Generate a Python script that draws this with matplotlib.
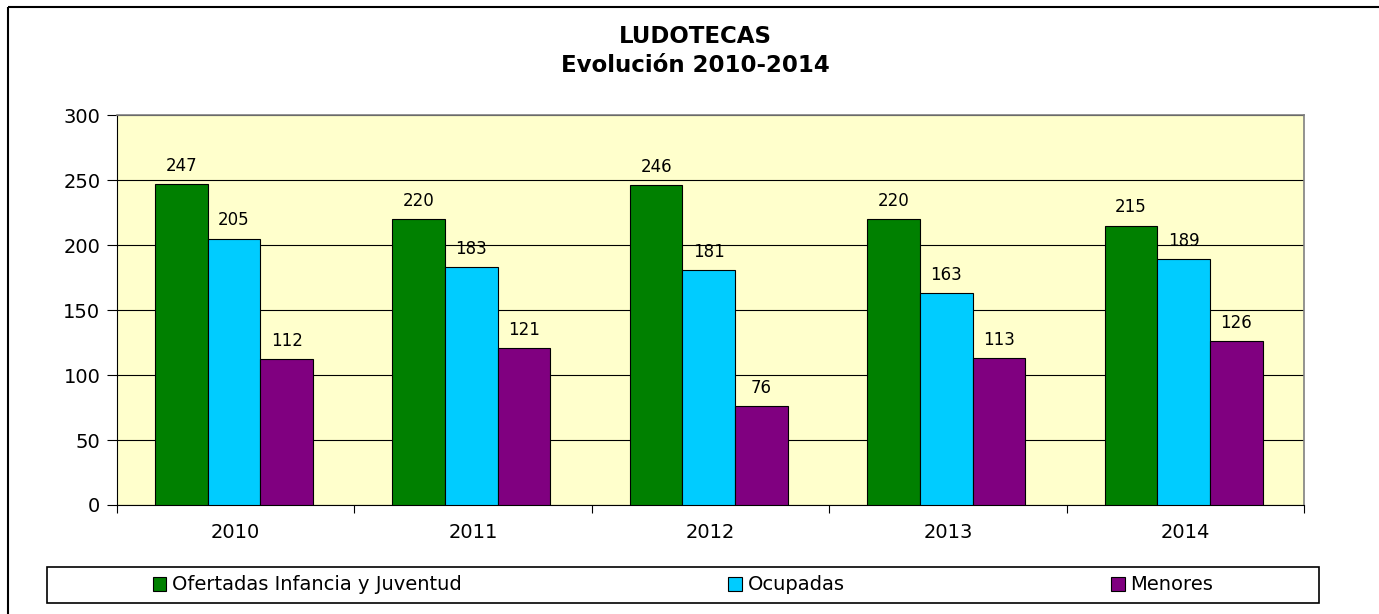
import numpy as np
import matplotlib.pyplot as plt
from matplotlib.patches import Rectangle

# Datos
anios = ['2010', '2011', '2012', '2013', '2014']
ofertadas = [247, 220, 246, 220, 215]
ocupadas = [205, 183, 181, 163, 189]
menores = [112, 121, 76, 113, 126]

series = ['Ofertadas Infancia y Juventud', 'Ocupadas', 'Menores']
colores = ['#008000', '#00CCFF', '#800080']

W, H = 1379, 614
fig = plt.figure(figsize=(W / 100, H / 100), dpi=100)
plt.rcParams['font.family'] = ['DejaVu Sans']

# Marco exterior (solo se ven el borde izquierdo y superior)
fig.patches.append(Rectangle((8 / W, 1 - 7 / H), 1.2, -1.2, transform=fig.transFigure,
                             fill=False, edgecolor='black', linewidth=1.5))

ax = fig.add_axes([117 / W, 1 - 505 / H, (1304 - 117) / W, (505 - 115) / H])
ax.set_facecolor('#FFFFCC')

x = np.arange(len(anios))
ancho = 0.222
valores = [ofertadas, ocupadas, menores]
for k, (vals, col, nombre) in enumerate(zip(valores, colores, series)):
    pos = x + (k - 1) * ancho - 0.007
    barras = ax.bar(pos, vals, ancho, color=col, edgecolor='black', linewidth=0.8,
                    label=nombre, zorder=3)
    for b, v in zip(barras, vals):
        ax.text(b.get_x() + b.get_width() / 2, v + 7, str(v), ha='center', va='bottom',
                fontsize=12, zorder=4)

ax.set_xlim(-0.5, len(anios) - 0.5)
ax.set_ylim(0, 300)
ax.set_yticks(range(0, 301, 50))
ax.yaxis.grid(True, color='black', linewidth=0.8, zorder=1)
ax.set_axisbelow(True)

ax.set_xticks(x)
ax.set_xticklabels(anios, fontsize=14)
ax.set_xticks(np.arange(-0.5, len(anios)), minor=True)
ax.tick_params(axis='x', which='major', length=0, pad=13)
ax.tick_params(axis='x', which='minor', length=6, width=0.8, direction='out')
ax.tick_params(axis='y', labelsize=14, length=7, width=0.8, pad=5)

for s in ['top', 'right']:
    ax.spines[s].set_color('#808080')
    ax.spines[s].set_linewidth(1.2)
for s in ['left', 'bottom']:
    ax.spines[s].set_color('black')
    ax.spines[s].set_linewidth(0.8)

fig.text(695 / W, 1 - 51 / H, 'LUDOTECAS\nEvolución 2010-2014', ha='center', va='center',
         fontsize=16.5, fontweight='bold', linespacing=1.3)

# Caja de la leyenda
fig.patches.append(Rectangle((47 / W, 1 - 603 / H), (1319 - 47) / W, 36 / H,
                             transform=fig.transFigure, fill=False, edgecolor='black',
                             linewidth=1.2))
fig.legend(loc='center', bbox_to_anchor=(683 / W, 1 - 585 / H), ncol=3, frameon=False,
           fontsize=14, columnspacing=13.7, handlelength=0.7, handleheight=0.7,
           handletextpad=0.3)

plt.savefig('out.png', dpi=100)
